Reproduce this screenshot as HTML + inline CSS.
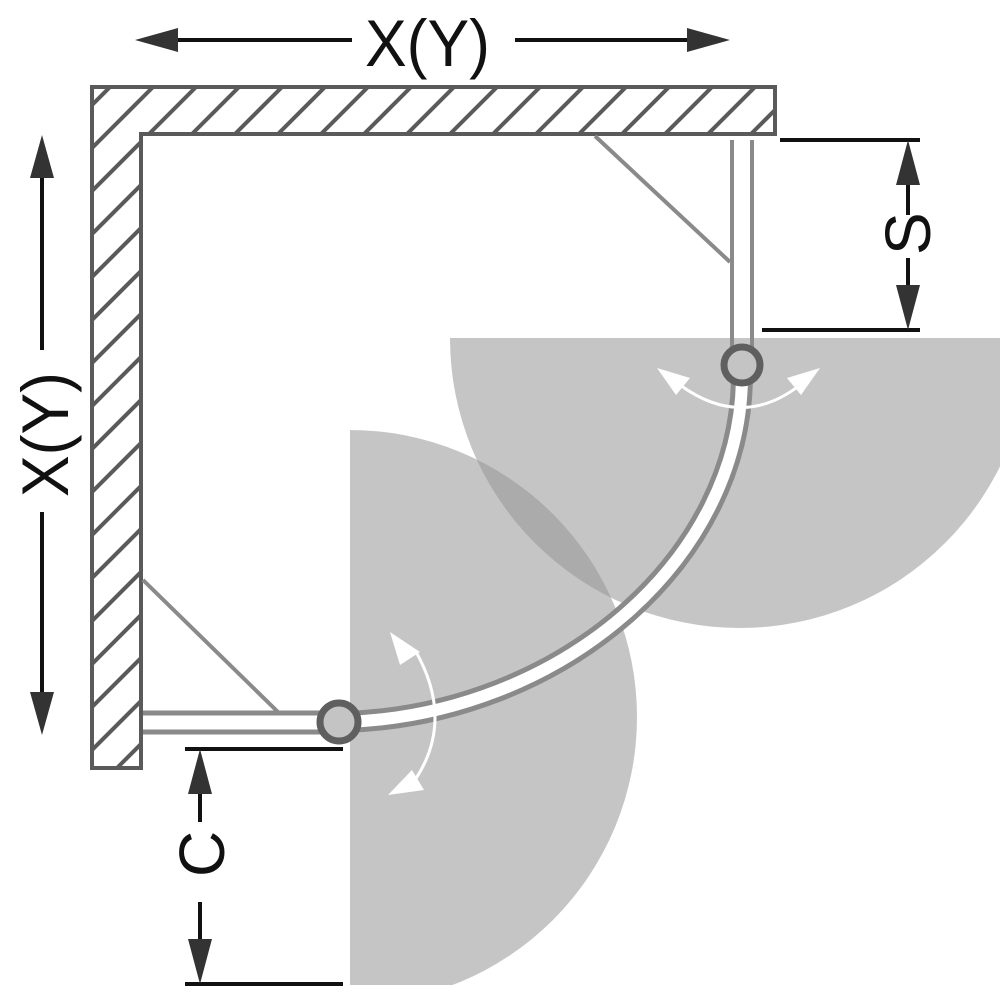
<!DOCTYPE html>
<html><head><meta charset="utf-8"><style>html,body{margin:0;padding:0;background:#fff}svg{display:block}</style></head>
<body>
<svg width="1000" height="1000" viewBox="0 0 1000 1000" xmlns="http://www.w3.org/2000/svg">
<defs>
<clipPath id="wall"><path d="M92,87 H775 V136 H141 V768 H92 Z"/></clipPath>
</defs>
<path d="M450,338 A290,290 0 0 0 1030,338 Z" fill="rgb(150,150,150)" fill-opacity="0.55"/>
<path d="M350,430 A287,287 0 0 1 350,1004 Z" fill="rgb(150,150,150)" fill-opacity="0.55"/>
<rect x="0" y="985" width="1000" height="15" fill="#fff"/>
<g clip-path="url(#wall)" stroke="#5a5a5a" stroke-width="4">
<path d="M-800,1040 L200,40 M-757,1040 L243,40 M-714,1040 L286,40 M-671,1040 L329,40 M-628,1040 L372,40 M-585,1040 L415,40 M-542,1040 L458,40 M-499,1040 L501,40 M-456,1040 L544,40 M-413,1040 L587,40 M-370,1040 L630,40 M-327,1040 L673,40 M-284,1040 L716,40 M-241,1040 L759,40 M-198,1040 L802,40 M-155,1040 L845,40 M-112,1040 L888,40 M-843,1040 L157,40 M-886,1040 L114,40 M-929,1040 L71,40 M-972,1040 L28,40 M-1015,1040 L-15,40 M-1058,1040 L-58,40 M-1101,1040 L-101,40 M-1144,1040 L-144,40 M-1187,1040 L-187,40 M-1230,1040 L-230,40 M-1273,1040 L-273,40 M-1316,1040 L-316,40 M-1359,1040 L-359,40 M-1402,1040 L-402,40 M-1445,1040 L-445,40 M-1488,1040 L-488,40 M-1531,1040 L-531,40 M-1574,1040 L-574,40 M-1617,1040 L-617,40" fill="none"/>
</g>
<path d="M92,87 H775 V134 H141 V768 H92 Z" fill="none" stroke="#5a5a5a" stroke-width="4"/>
<line x1="595" y1="136" x2="730" y2="262" stroke="#8a8a8a" stroke-width="4"/>
<line x1="143" y1="580" x2="278" y2="712" stroke="#8a8a8a" stroke-width="4"/>
<line x1="732" y1="140" x2="732" y2="352" stroke="#8a8a8a" stroke-width="4"/>
<line x1="752" y1="140" x2="752" y2="352" stroke="#8a8a8a" stroke-width="4"/>
<line x1="143" y1="713" x2="325" y2="713" stroke="#8a8a8a" stroke-width="5"/>
<line x1="143" y1="732" x2="325" y2="732" stroke="#8a8a8a" stroke-width="5"/>
<path d="M345,722 C560,715 742,560 742,375" fill="none" stroke="#8a8a8a" stroke-width="22"/>
<path d="M345,722 C560,715 742,560 742,375" fill="none" stroke="#fff" stroke-width="12"/>
<circle cx="742" cy="365" r="18" fill="#c4c4c4" stroke="#5f5f5f" stroke-width="7"/>
<circle cx="339" cy="722" r="19" fill="#c4c4c4" stroke="#5f5f5f" stroke-width="7"/>
<g stroke="#fff" stroke-width="3" fill="none">
<path d="M680,385 Q742,430 800,385"/>
<path d="M415,650 Q455,720 415,780"/>
</g>
<g fill="#fff">
<polygon points="657,368 690,378 676,395"/>
<polygon points="820,368 787,378 801,395"/>
<polygon points="390,632 420,652 400,665"/>
<polygon points="388,795 412,770 424,790"/>
</g>
<g stroke="#111" stroke-width="4" fill="none">
<line x1="165" y1="40" x2="352" y2="40"/>
<line x1="515" y1="40" x2="700" y2="40"/>
<line x1="42" y1="160" x2="42" y2="350"/>
<line x1="42" y1="512" x2="42" y2="705"/>
<line x1="780" y1="140" x2="920" y2="140"/>
<line x1="762" y1="330" x2="920" y2="330"/>
<line x1="908" y1="160" x2="908" y2="215"/>
<line x1="908" y1="258" x2="908" y2="305"/>
<line x1="185" y1="749" x2="343" y2="749"/>
<line x1="185" y1="984" x2="343" y2="984"/>
<line x1="200" y1="770" x2="200" y2="822"/>
<line x1="200" y1="902" x2="200" y2="960"/>
</g>
<g fill="#333">
<polygon points="135,40 178,28 178,52"/>
<polygon points="730,40 687,28 687,52"/>
<polygon points="42,135 30,178 54,178"/>
<polygon points="42,735 30,692 54,692"/>
<polygon points="908,140 896,185 920,185"/>
<polygon points="908,330 896,285 920,285"/>
<polygon points="200,749 188,794 212,794"/>
<polygon points="200,984 188,939 212,939"/>
</g>
<g font-family="Liberation Sans, sans-serif" fill="#111" font-weight="normal">
<text x="365" y="66" font-size="66" textLength="125" lengthAdjust="spacingAndGlyphs">X(Y)</text>
<text transform="translate(68,497) rotate(-90)" font-size="66" textLength="125" lengthAdjust="spacingAndGlyphs">X(Y)</text>
<text transform="translate(930,255) rotate(-90)" font-size="64">S</text>
<text transform="translate(224,877) rotate(-90)" font-size="64">C</text>
</g>
</svg>
</body></html>
